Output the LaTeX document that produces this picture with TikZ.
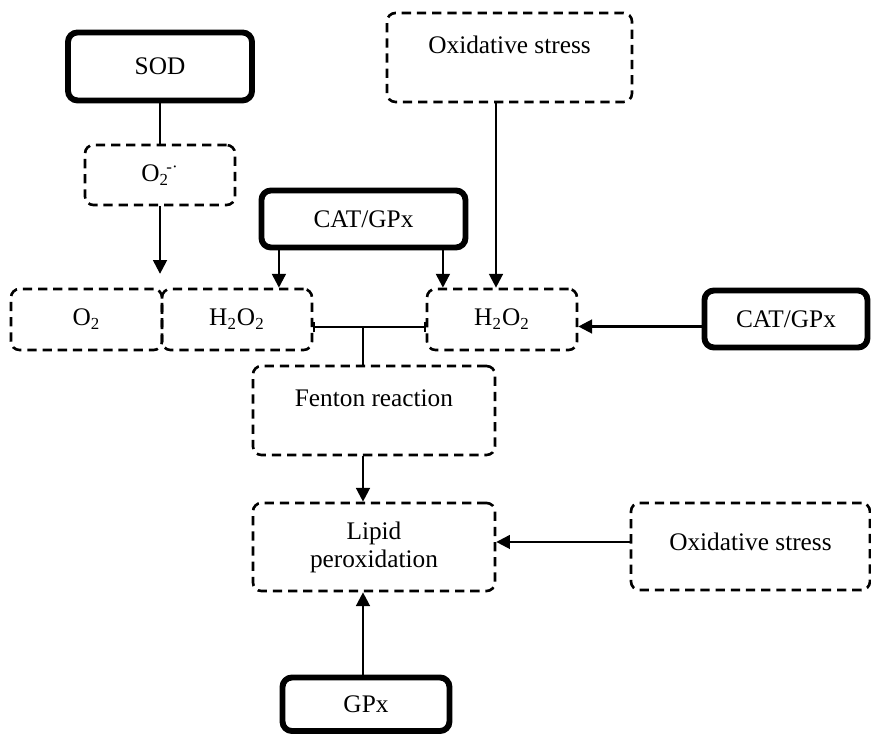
\documentclass[tikz,border=0pt]{standalone}
\usepackage{fontspec}
\setmainfont{Liberation Serif}
\usepackage{tikz}
\usetikzlibrary{arrows.meta}

\tikzset{
	dashbox/.style={draw, rounded corners=4pt, line width=1.25pt,
		dash pattern=on 4.4pt off 2.8pt, inner sep=0pt, align=center,
		font=\fontsize{12pt}{13.3pt}\selectfont},
	thickbox/.style={draw, rounded corners=4.5pt, line width=2.8pt,
		inner sep=0pt, align=center, font=\fontsize{12pt}{13.3pt}\selectfont},
	arr/.style={line width=1.1pt, -{Triangle[length=6.5pt,width=6.5pt]}},
	link/.style={line width=1.1pt},
	barline/.style={line width=0.8pt, {Bar[width=5pt]}-{Bar[width=5pt]}}
}

\begin{document}
\begin{tikzpicture} % SOD, CAT/GPx and lipid peroxidation
\useasboundingbox (0,0) rectangle (14.517,-12.25);

\node[thickbox, minimum width=3.067cm, minimum height=1.133cm] (sod) at (2.667,-1.108) {SOD};
\node[dashbox, minimum width=2.5cm, minimum height=1cm] (o2m) at (2.667,-2.917) {O\textsubscript{2}\kern-0.1em\textsuperscript{-·}};
\node[dashbox, minimum width=2.517cm, minimum height=1.017cm] (o2) at (1.442,-5.325) {O\textsubscript{2}};
\node[dashbox, minimum width=2.5cm, minimum height=1.017cm] (h2l) at (3.95,-5.325) {H\textsubscript{2}O\textsubscript{2}};
\node[thickbox, minimum width=3.4cm, minimum height=0.95cm] (catA) at (6.058,-3.65) {CAT/GPx};
\node[dashbox, minimum width=4.083cm, minimum height=1.483cm, text depth=0.42cm] (oxA) at (8.492,-0.958) {Oxidative stress};
\node[dashbox, minimum width=2.5cm, minimum height=1.017cm] (h2r) at (8.367,-5.325) {H\textsubscript{2}O\textsubscript{2}};
\node[thickbox, minimum width=2.717cm, minimum height=0.95cm] (catB) at (13.1,-5.317) {CAT/GPx};
\node[dashbox, minimum width=4.033cm, minimum height=1.483cm, text depth=0.42cm] (fenton) at (6.233,-6.842) {Fenton reaction};
\node[dashbox, minimum width=4.033cm, minimum height=1.467cm] (lipid) at (6.233,-9.117) {Lipid\\peroxidation};
\node[dashbox, minimum width=3.983cm, minimum height=1.45cm, text depth=0.15cm] (oxB) at (12.508,-9.108) {Oxidative stress};
\node[thickbox, minimum width=2.783cm, minimum height=0.892cm] (gpx) at (6.1,-11.738) {GPx};

\coordinate (jn) at (6.05,-5.45);
\coordinate (c1) at ([xshift=0.34cm]catA.south west);
\coordinate (c2) at ([xshift=-0.425cm]catA.south east);
\coordinate (c3) at ([xshift=-0.225cm]oxA.south);
\coordinate (c4) at ([yshift=-0.125cm]catB.west);
\coordinate (c5) at ([yshift=0.075cm]oxB.west);

\draw[link] (sod) -- (o2m);
\draw[arr, shorten >=0.23cm] (o2m.south) -- (o2m.south |- o2.north);
\draw[arr] (c1) -- (c1 |- h2l.north);
\draw[arr] (c2) -- (c2 |- h2r.north);
\draw[arr] (c3) -- (c3 |- h2r.north);
\draw[arr] (c4) -- (c4 -| h2r.east);
\draw[barline] (h2l.east |- jn) -- (h2r.west |- jn);
\draw[link] (jn) -- (jn |- fenton.north);
\draw[arr] (jn |- fenton.south) -- (jn |- lipid.north);
\draw[arr] (c5) -- (c5 -| lipid.east);
\draw[arr] (jn |- gpx.north) -- (jn |- lipid.south);

\end{tikzpicture}
\end{document}
